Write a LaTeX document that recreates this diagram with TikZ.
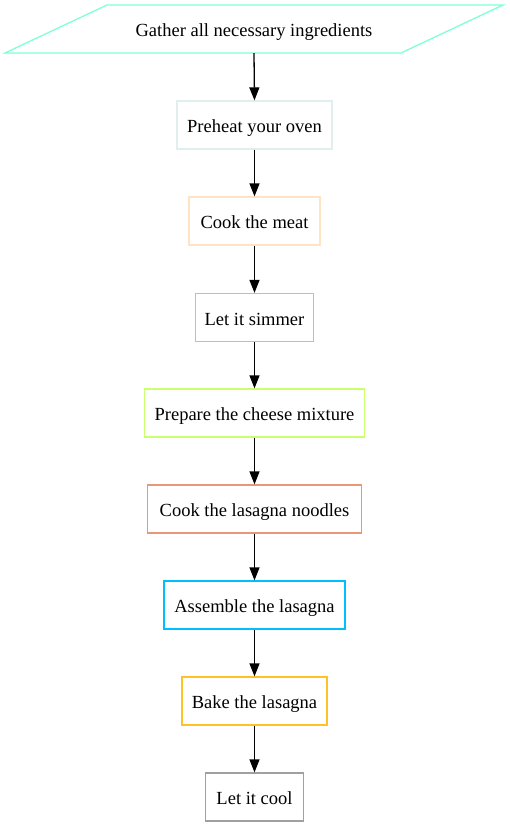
\documentclass[tikz,border=0pt]{standalone}
\usepackage{fontspec}
\setmainfont{Liberation Serif}
\usetikzlibrary{arrows.meta}
\definecolor{cAqua}{HTML}{7FFFD4}
\definecolor{cAzure}{HTML}{E0EEEE}
\definecolor{cBisque}{HTML}{FFE4C4}
\definecolor{cBurly}{HTML}{DEB887}
\definecolor{cOlive}{HTML}{CAFF70}
\definecolor{cSalmon}{HTML}{E9967A}
\definecolor{cSky}{HTML}{00BFFF}
\definecolor{cGold}{HTML}{FFC125}
\definecolor{cGray}{HTML}{A0A0A0}
\tikzset{
  labelfont/.style={font=\fontsize{18.5pt}{20pt}\selectfont, text height=17pt, text depth=2pt},
  stepbox/.style={draw, rectangle, line width=1.3pt, minimum height=48pt, inner sep=0pt, labelfont},
  flowarrow/.style={-{Triangle[length=13pt,width=10pt]}, line width=1.3pt, black},
}
\begin{document}
\begin{tikzpicture}[x=1pt,y=-1pt]
\useasboundingbox (0,0) rectangle (509,827);
\node[minimum width=300pt, minimum height=48pt, inner sep=0pt, labelfont] (n0) at (254,29) {Gather all necessary ingredients};
\coordinate (p1) at (107,5);
\coordinate (p2) at (503,5);
\coordinate (p3) at (401,53);
\coordinate (p4) at (5,53);
\draw[cAqua, line width=1.3pt] (p1) -- (p2) -- (p3) -- (p4) -- cycle;
\node[stepbox, draw=cAzure, minimum width=155pt] (n1) at (254.5,125) {Preheat your oven};
\node[stepbox, draw=cBisque, minimum width=131pt] (n2) at (254.5,221) {Cook the meat};
\node[stepbox, draw=cBurly, minimum width=118pt] (n3) at (254.5,317.5) {Let it simmer};
\node[stepbox, draw=cOlive, minimum width=220pt] (n4) at (254.5,413) {Prepare the cheese mixture};
\node[stepbox, draw=cSalmon, minimum width=214pt] (n5) at (254.5,509) {Cook the lasagna noodles};
\node[stepbox, draw=cSky, minimum width=181pt] (n6) at (254.5,605) {Assemble the lasagna};
\node[stepbox, draw=cGold, minimum width=145pt] (n7) at (254.5,701) {Bake the lasagna};
\node[stepbox, draw=cGray, minimum width=98pt] (n8) at (254.5,797) {Let it cool};
\draw[flowarrow] (n0.south) -- (n1.north);
\draw[flowarrow] (n1) -- (n2);
\draw[flowarrow] (n2) -- (n3);
\draw[flowarrow] (n3) -- (n4);
\draw[flowarrow] (n4) -- (n5);
\draw[flowarrow] (n5) -- (n6);
\draw[flowarrow] (n6) -- (n7);
\draw[flowarrow] (n7) -- (n8);
\end{tikzpicture}
\end{document}
